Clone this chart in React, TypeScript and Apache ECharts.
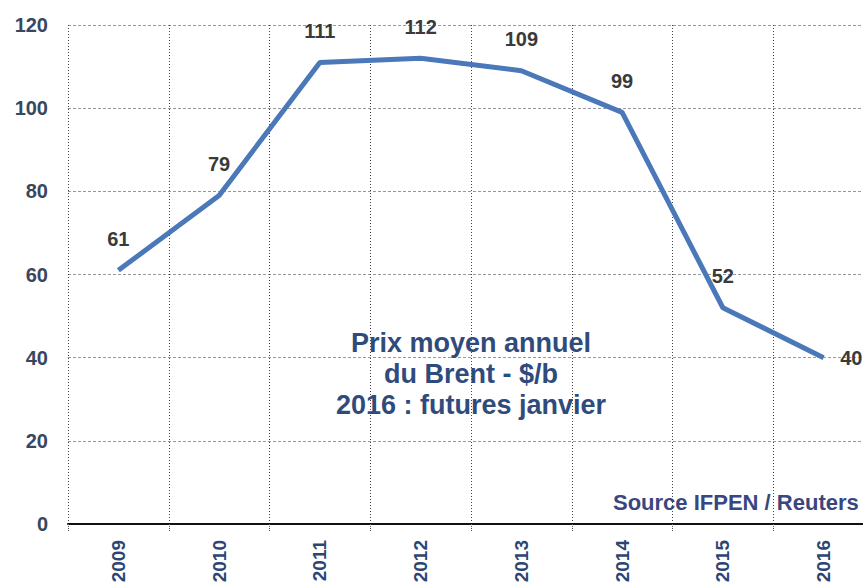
import React, { useEffect, useRef } from "react";
import * as echarts from "echarts";

// Annual average Brent price, $/barrel (2016: January futures)
const years = ["2009", "2010", "2011", "2012", "2013", "2014", "2015", "2016"];
const brentPrice = [61, 79, 111, 112, 109, 99, 52, 40];
const yTicks = { min: 0, max: 120, interval: 20 };
const titleLines = ["Prix moyen annuel", "du Brent - $/b", "2016 : futures janvier"];
const sourceText = "Source IFPEN / Reuters";

const FONT = "'Liberation Sans', Arial, sans-serif";

export default function App() {
  const ref = useRef<HTMLDivElement>(null);

  useEffect(() => {
    document.body.style.margin = "0";
    if (!ref.current) return;
    const chart = echarts.init(ref.current, null, { renderer: "svg" });

    const data = brentPrice.map((v, i) =>
      i === brentPrice.length - 1
        ? { value: v, label: { position: "right", distance: 16 } }
        : { value: v }
    );

    chart.setOption({
      animation: false,
      backgroundColor: "#ffffff",
      grid: {
        left: 68,
        right: -11,
        top: 25,
        bottom: 61,
        containLabel: false,
        outerBoundsMode: "none",
      },
      xAxis: {
        type: "category",
        data: years,
        boundaryGap: true,
        axisLine: { show: true, lineStyle: { color: "#111", width: 2 } },
        axisTick: {
          show: true,
          length: 8,
          lineStyle: { color: "#555", type: "dotted", width: 1 },
        },
        axisLabel: {
          rotate: 90,
          margin: 16,
          fontFamily: FONT,
          fontSize: 19,
          fontWeight: "bold",
          color: "#2d4573",
        },
        splitLine: {
          show: true,
          lineStyle: { color: "#444", type: [1, 2], width: 1 },
        },
      },
      yAxis: {
        type: "value",
        min: yTicks.min,
        max: yTicks.max,
        interval: yTicks.interval,
        axisLine: { show: false },
        axisTick: { show: false },
        axisLabel: {
          margin: 20,
          fontFamily: FONT,
          fontSize: 20,
          fontWeight: "bold",
          color: "#38465f",
        },
        splitLine: {
          show: true,
          lineStyle: { color: "#999", type: [3, 2], width: 1 },
        },
      },
      series: [
        {
          type: "line",
          data,
          symbol: "circle",
          symbolSize: 1,
          showSymbol: true,
          itemStyle: { color: "rgba(74,120,184,0)" },
          lineStyle: { color: "#4a78b8", width: 5 },
          label: {
            show: true,
            position: "top",
            distance: 21,
            fontFamily: FONT,
            fontSize: 20,
            fontWeight: "bold",
            color: "#3a3a3a",
          },
          z: 3,
        },
      ],
      graphic: [
        {
          type: "text",
          x: 471,
          y: 327,
          z: 10,
          style: {
            text: titleLines.join("\n"),
            textAlign: "center",
            textVerticalAlign: "top",
            fontFamily: FONT,
            fontSize: 27,
            fontWeight: "bold",
            lineHeight: 31,
            fill: "#2f4b7c",
          },
        },
        {
          type: "text",
          x: 613,
          y: 502,
          z: 10,
          style: {
            text: sourceText,
            textAlign: "left",
            textVerticalAlign: "middle",
            fontFamily: FONT,
            fontSize: 22,
            fontWeight: "bold",
            fill: "#3a4680",
          },
        },
      ],
    });

    return () => chart.dispose();
  }, []);

  return <div ref={ref} style={{ width: 863, height: 585 }} />;
}
